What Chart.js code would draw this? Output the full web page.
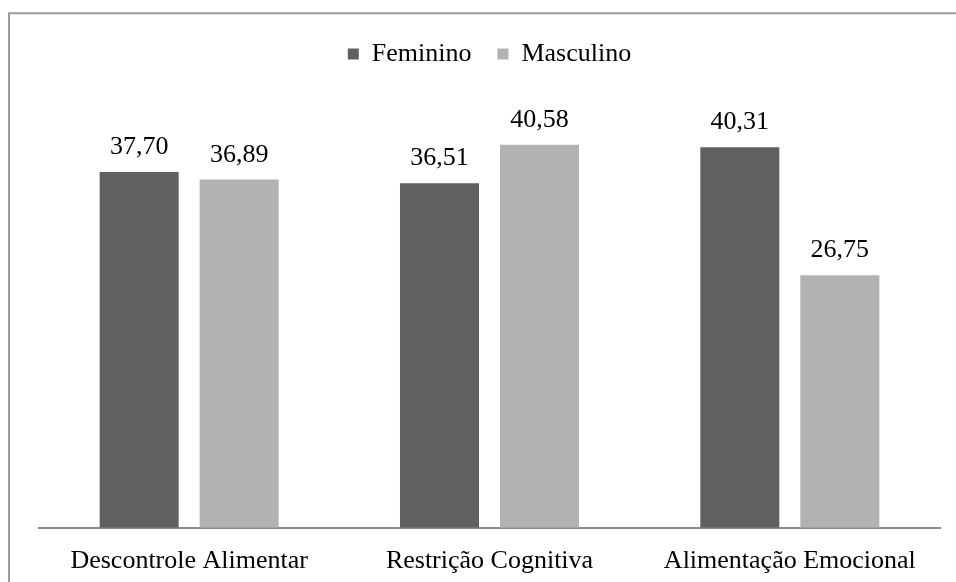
<!DOCTYPE html>
<html>
<head>
<meta charset="utf-8">
<script src="https://cdn.jsdelivr.net/npm/chart.js@4"></script>
<style>
  html, body { margin: 0; padding: 0; background: #ffffff; }
  canvas { display: block; }
</style>
</head>
<body>
<canvas id="chart" width="956" height="582"></canvas>
<script>
// Médias por dimensão do comportamento alimentar, por sexo
const categories = ['Descontrole Alimentar', 'Restrição Cognitiva', 'Alimentação Emocional'];
const feminino = [37.70, 36.51, 40.31];
const masculino = [36.89, 40.58, 26.75];
const seriesNames = ['Feminino', 'Masculino'];

const FONT = "'Liberation Serif', 'Times New Roman', serif";
Chart.defaults.font.family = FONT;
Chart.defaults.color = '#000000';

const fmt = v => v.toFixed(2).replace('.', ',');

// Moldura cinza à volta do gráfico
const framePlugin = {
  id: 'frame',
  beforeDraw(chart) {
    const ctx = chart.ctx;
    ctx.save();
    ctx.fillStyle = '#ffffff';
    ctx.fillRect(0, 0, chart.width, chart.height);
    ctx.strokeStyle = '#9c9c9c';
    ctx.lineWidth = 2;
    ctx.beginPath();
    ctx.moveTo(9, chart.height);
    ctx.lineTo(9, 13.3);
    ctx.lineTo(chart.width, 13.3);
    ctx.stroke();
    ctx.restore();
  }
};

// Rótulos de valor acima de cada barra
const valueLabels = {
  id: 'valueLabels',
  afterDatasetsDraw(chart) {
    const ctx = chart.ctx;
    ctx.save();
    ctx.font = '26px ' + FONT;
    ctx.fillStyle = '#000000';
    ctx.textAlign = 'center';
    ctx.textBaseline = 'alphabetic';
    chart.data.datasets.forEach((ds, di) => {
      chart.getDatasetMeta(di).data.forEach((bar, i) => {
        ctx.fillText(fmt(ds.data[i]), bar.x, bar.y - 18);
      });
    });
    ctx.restore();
  }
};

new Chart(document.getElementById('chart'), {
  type: 'bar',
  data: {
    labels: categories,
    datasets: [
      { label: seriesNames[0], data: feminino, backgroundColor: '#606060', borderWidth: 0 },
      { label: seriesNames[1], data: masculino, backgroundColor: '#b2b2b2', borderWidth: 0 }
    ]
  },
  options: {
    responsive: false,
    devicePixelRatio: 1,
    animation: false,
    layout: { padding: { left: 39, right: 16, top: 15, bottom: -13 } },
    datasets: { bar: { categoryPercentage: 0.666, barPercentage: 0.79 } },
    scales: {
      x: {
        grid: { display: false, drawTicks: false },
        border: { display: true, color: '#8c8c8c', width: 2 },
        ticks: { font: { size: 26 }, color: '#000000', padding: 18, maxRotation: 0 }
      },
      y: { display: false, min: 0, max: 45 }
    },
    plugins: {
      legend: {
        position: 'top',
        labels: { boxWidth: 11, boxHeight: 11, padding: 26, font: { size: 26 }, color: '#000000' }
      },
      subtitle: {
        display: true,
        text: '',
        weight: 500,
        font: { size: 10 },
        padding: { top: 0, bottom: 14 }
      },
      tooltip: { enabled: false }
    }
  },
  plugins: [framePlugin, valueLabels]
});
</script>
</body>
</html>
